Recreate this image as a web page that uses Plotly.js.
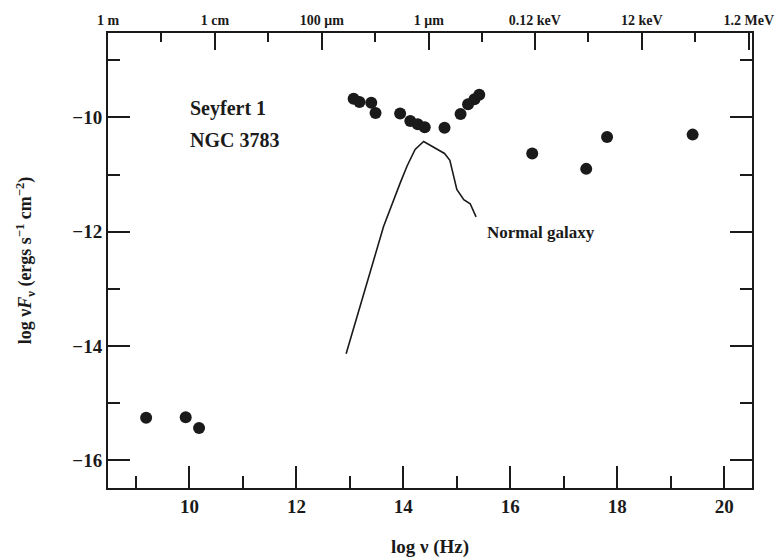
<!DOCTYPE html>
<html>
<head>
<meta charset="utf-8">
<script src="https://cdn.plot.ly/plotly-3.0.1.min.js"></script>
<style>html,body{margin:0;padding:0;background:#fff;}#chart{width:783px;height:560px;}</style>
</head>
<body>
<div id="chart"></div>
<script>
// Seyfert 1 NGC 3783 observed points (log nu [Hz], log nuF_nu)
var seyfertLogNu = [9.19, 9.93, 10.18, 13.07, 13.18, 13.40, 13.48, 13.94, 14.13, 14.27, 14.40, 14.77, 15.07, 15.21, 15.33, 15.42, 16.41, 17.42, 17.81, 19.41];
var seyfertLogFlux = [-15.26, -15.25, -15.44, -9.67, -9.73, -9.74, -9.92, -9.93, -10.06, -10.12, -10.17, -10.18, -9.94, -9.77, -9.68, -9.60, -10.63, -10.90, -10.34, -10.30];

// Normal galaxy spectrum
var galaxyLogNu = [12.93, 13.63, 13.94, 14.07, 14.22, 14.38, 14.77, 14.87, 15.00, 15.13, 15.25, 15.36];
var galaxyLogFlux = [-14.14, -11.91, -11.15, -10.85, -10.56, -10.42, -10.63, -10.75, -11.26, -11.44, -11.51, -11.74];

// Axis ticks
var bottomTickVals = [10, 12, 14, 16, 18, 20];
var bottomTickText = ["10", "12", "14", "16", "18", "20"];
var leftTickVals = [-10, -12, -14, -16];
var leftTickText = ["\u221210", "\u221212", "\u221214", "\u221216"];
var topTickVals = [8.477, 10.477, 12.477, 14.477, 16.46, 18.46, 20.46];
var topTickText = ["1 m", "1 cm", "100 \u03bcm", "1 \u03bcm", "0.12 keV", "12 keV", "1.2 MeV"];
var topMinorVals = [9.477, 11.477, 13.477, 15.477, 17.46, 19.46];

var ink = "#1a1a1a";
var serif = "Liberation Serif, Times New Roman, serif";
var xRange = [8.477, 20.52];
var yRange = [-16.49, -8.52];

var traces = [
  {
    x: galaxyLogNu, y: galaxyLogFlux, type: "scatter", mode: "lines",
    line: {color: ink, width: 1.6}, hoverinfo: "skip", showlegend: false
  },
  {
    x: seyfertLogNu, y: seyfertLogFlux, type: "scatter", mode: "markers",
    marker: {color: ink, size: 12}, showlegend: false
  },
  {
    x: [xRange[0]], y: [yRange[0]], xaxis: "x2", yaxis: "y", type: "scatter",
    mode: "markers", marker: {opacity: 0}, hoverinfo: "skip", showlegend: false
  }
];

var layout = {
  width: 783, height: 560,
  margin: {l: 108, r: 31, t: 33, b: 72},
  paper_bgcolor: "#fff", plot_bgcolor: "#fff",
  font: {family: serif, color: ink, size: 18, weight: "bold"},
  xaxis: {
    range: xRange, showgrid: false, zeroline: false,
    showline: true, linecolor: ink, linewidth: 2,
    ticks: "inside", ticklen: 22, tickwidth: 2, tickcolor: ink,
    tickmode: "array", tickvals: bottomTickVals, ticktext: bottomTickText,
    tickfont: {family: serif, size: 19, color: ink, weight: "bold"},
    minor: {tickmode: "linear", tick0: 9, dtick: 1, ticklen: 12, tickwidth: 2, tickcolor: ink, ticks: "inside"},
    title: {text: "log \u03bd (Hz)", font: {family: serif, size: 19, color: ink, weight: "bold"}, standoff: 24}
  },
  xaxis2: {
    overlaying: "x", side: "top", range: xRange, showgrid: false, zeroline: false,
    showline: true, linecolor: ink, linewidth: 2,
    ticks: "inside", ticklen: 17, tickwidth: 2, tickcolor: ink,
    tickmode: "array", tickvals: topTickVals, ticktext: topTickText,
    tickfont: {family: serif, size: 14, color: ink, weight: "bold"},
    minor: {tickmode: "array", tickvals: topMinorVals, ticklen: 9, tickwidth: 2, tickcolor: ink, ticks: "inside"}
  },
  yaxis: {
    range: yRange, showgrid: false, zeroline: false,
    showline: true, linecolor: ink, linewidth: 2, mirror: "ticks",
    ticks: "inside", ticklen: 22, tickwidth: 2, tickcolor: ink,
    tickmode: "array", tickvals: leftTickVals, ticktext: leftTickText,
    tickfont: {family: serif, size: 19, color: ink, weight: "bold"},
    minor: {tickmode: "linear", tick0: -9, dtick: 1, ticklen: 12, tickwidth: 2, tickcolor: ink, ticks: "inside"},
    title: {text: "log \u03bd<i>F</i><sub>\u03bd</sub> (ergs s<sup>\u22121</sup> cm<sup>\u22122</sup>)", font: {family: serif, size: 18, color: ink, weight: "bold"}, standoff: 36}
  },
  annotations: [
    {x: 9.98, y: -9.84, xref: "x", yref: "y", text: "Seyfert 1", showarrow: false, xanchor: "left", yanchor: "middle",
     font: {family: serif, size: 20, color: ink, weight: "bold"}},
    {x: 9.98, y: -10.39, xref: "x", yref: "y", text: "NGC 3783", showarrow: false, xanchor: "left", yanchor: "middle",
     font: {family: serif, size: 20, color: ink, weight: "bold"}},
    {x: 15.53, y: -12.02, xref: "x", yref: "y", text: "Normal galaxy", showarrow: false, xanchor: "left", yanchor: "middle",
     font: {family: serif, size: 17, color: ink, weight: "bold"}}
  ]
};

Plotly.newPlot("chart", traces, layout, {displayModeBar: false, staticPlot: true});
</script>
</body>
</html>
